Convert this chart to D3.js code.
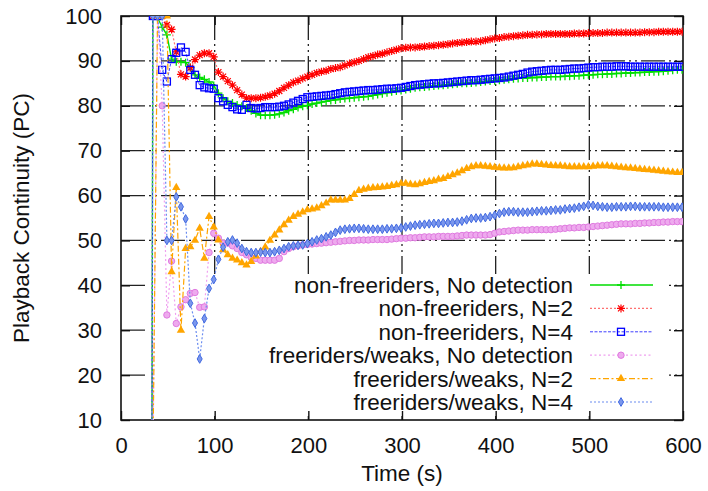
<!DOCTYPE html>
<html>
<head>
<meta charset="utf-8">
<script src="https://cdn.jsdelivr.net/npm/d3@7"></script>
<style>
  body { margin: 0; background: #fff; }
  text { font-family: "Liberation Sans", Arial, sans-serif; }
</style>
</head>
<body>
<div id="chart"></div>
<script>
// sample times (s)
const times = [33, 34, 39, 44, 49, 54, 59, 64, 69, 74,
  79, 84, 89, 94, 99, 104, 109, 114, 119, 124,
  129, 134, 139, 144, 149, 154, 159, 164, 169, 174,
  179, 184, 189, 194, 199, 204, 209, 214, 219, 224,
  229, 234, 239, 244, 249, 254, 259, 264, 269, 274,
  279, 284, 289, 294, 299, 304, 309, 314, 319, 324,
  329, 334, 339, 344, 349, 354, 359, 364, 369, 374,
  379, 384, 389, 394, 399, 404, 409, 414, 419, 424,
  429, 434, 439, 444, 449, 454, 459, 464, 469, 474,
  479, 484, 489, 494, 499, 504, 509, 514, 519, 524,
  529, 534, 539, 544, 549, 554, 559, 564, 569, 574,
  579, 584, 589, 594, 599];

const nonNoDetect = [0, 100, 99.6, 97.5, 95.8, 90.4, 89.8, 89.8, 89.6, 88.5,
  86.9, 86.3, 85.9, 85.3, 84.5, 82.8, 81.7, 81, 80.6, 80.2,
  79.9, 79.5, 78.9, 78.3, 77.9, 77.9, 77.9, 78, 78.2, 78.5,
  78.9, 79.2, 79.6, 79.9, 80.1, 80.4, 80.6, 80.8, 81, 81.2,
  81.3, 81.5, 81.6, 81.7, 81.8, 81.9, 82, 82.1, 82.3, 82.5,
  82.7, 82.9, 83.1, 83.3, 83.4, 83.6, 83.8, 84, 84.1, 84.2,
  84.3, 84.4, 84.5, 84.6, 84.7, 84.8, 84.9, 85, 85, 85.1,
  85.2, 85.3, 85.4, 85.5, 85.6, 85.7, 85.8, 85.9, 86, 86.1,
  86.2, 86.2, 86.3, 86.3, 86.4, 86.4, 86.5, 86.5, 86.5, 86.6,
  86.6, 86.7, 86.7, 86.8, 86.9, 86.9, 87, 87, 87.1, 87.1,
  87.2, 87.2, 87.3, 87.3, 87.4, 87.4, 87.5, 87.5, 87.6, 87.6,
  87.7, 87.8, 87.9, 88, 88];

const nonN2 = [0, 100, 100, 100, 98, 97, 92, 87, 86.5, 88.5,
  90.3, 91.3, 91.7, 91.7, 90.9, 87.5, 86.5, 85.5, 84.6, 83.5,
  82.5, 81.7, 81.7, 81.7, 81.8, 82, 82.3, 82.7, 83.3, 84,
  84.6, 85.2, 85.6, 86.1, 86.5, 86.9, 87.3, 87.6, 87.8, 88.2,
  88.4, 88.6, 89, 89.4, 89.7, 90, 90.4, 90.8, 91.1, 91.4,
  91.6, 91.9, 92.2, 92.5, 92.8, 92.9, 93, 93, 93.1, 93.2,
  93.3, 93.4, 93.5, 93.6, 93.7, 93.9, 94, 94.1, 94.2, 94.3,
  94.3, 94.4, 94.6, 94.8, 95, 95.1, 95.3, 95.4, 95.5, 95.6,
  95.7, 95.8, 95.8, 95.9, 95.9, 96, 96, 96, 96, 96,
  96, 96.1, 96.1, 96.1, 96.2, 96.2, 96.2, 96.2, 96.3, 96.3,
  96.3, 96.3, 96.3, 96.3, 96.3, 96.3, 96.4, 96.4, 96.4, 96.5,
  96.5, 96.5, 96.5, 96.5, 96.5];

const nonN4 = [0, 100, 100, 88, 85.4, 90.4, 91.8, 93, 92, 88,
  86.9, 84.6, 84.1, 83.9, 83.8, 81.7, 81, 80.2, 79.7, 79.2,
  79.1, 80.2, 79.5, 79.4, 79.5, 79.7, 79.7, 79.7, 79.8, 80,
  80.3, 80.7, 81.1, 81.5, 81.9, 82, 82.1, 82.2, 82.3, 82.4,
  82.6, 82.8, 83, 83.1, 83.2, 83.3, 83.4, 83.5, 83.5, 83.6,
  83.7, 83.8, 83.8, 83.9, 84, 84.2, 84.4, 84.6, 84.7, 84.8,
  84.9, 85, 85, 85.1, 85.2, 85.3, 85.4, 85.5, 85.6, 85.7,
  85.7, 85.8, 85.9, 86, 86.1, 86.2, 86.3, 86.5, 86.7, 86.9,
  87.1, 87.4, 87.6, 87.7, 87.8, 87.9, 88, 88, 88, 88.1,
  88.2, 88.3, 88.3, 88.4, 88.5, 88.6, 88.6, 88.7, 88.7, 88.7,
  88.8, 88.8, 88.8, 88.7, 88.7, 88.7, 88.7, 88.7, 88.7, 88.7,
  88.7, 88.7, 88.7, 88.7, 88.7];

const freeNoDetect = [0, 0, 100, 80, 33.4, 45.4, 31.5, 35.2, 36.8, 38.2,
  38.4, 35.1, 35.2, 47.3, 51.6, 50.5, 49.4, 49.4, 48.8, 48.2,
  47.3, 46.8, 46.2, 46, 45.6, 45.6, 45.6, 45.6, 46, 47.5,
  48.2, 48.6, 48.8, 49, 49.1, 49.2, 49.3, 49.4, 49.5, 49.6,
  49.7, 49.8, 49.9, 50, 50, 50.1, 50.1, 50.1, 50.2, 50.2,
  50.2, 50.2, 50.3, 50.4, 50.5, 50.5, 50.6, 50.6, 50.7, 50.8,
  50.8, 50.8, 50.9, 50.9, 50.9, 50.9, 51, 51.1, 51.2, 51.2,
  51.2, 51.2, 51.2, 51.3, 51.6, 51.9, 52, 52.1, 52.2, 52.3,
  52.3, 52.3, 52.4, 52.4, 52.4, 52.4, 52.4, 52.5, 52.6, 52.7,
  52.8, 52.8, 52.9, 52.9, 53, 53.1, 53.2, 53.3, 53.4, 53.5,
  53.6, 53.7, 53.7, 53.7, 53.8, 53.8, 53.9, 53.9, 54, 54,
  54.1, 54.1, 54.2, 54.2, 54.2];

const freeN2 = [0, 0, 100, 100, 100, 43, 61.8, 30, 48.2, 48.6,
  50, 52.7, 46, 55.3, 53, 50.1, 47.9, 46.8, 46, 45.6,
  45, 44.5, 45.3, 46.5, 47.5, 48.5, 50, 51.2, 52.3, 53.5,
  54.5, 55.3, 55.8, 56.3, 56.8, 57, 57.2, 57.7, 58.3, 59,
  59, 59, 59, 59.3, 60.2, 61.1, 61.4, 61.6, 61.7, 61.8,
  61.9, 62, 62.2, 62.4, 62.7, 62.7, 62.5, 62.4, 62.6, 62.9,
  63.1, 63.3, 63.6, 63.8, 64.2, 64.6, 65, 65.5, 66, 66.4,
  66.6, 66.6, 66.5, 66.4, 66.3, 66.2, 66.1, 66.1, 66.2, 66.4,
  66.6, 66.8, 67, 67, 66.9, 66.8, 66.7, 66.6, 66.6, 66.5,
  66.4, 66.4, 66.4, 66.4, 66.4, 66.5, 66.6, 66.6, 66.6, 66.5,
  66.4, 66.3, 66.2, 66.1, 66, 65.9, 65.8, 65.7, 65.6, 65.5,
  65.4, 65.3, 65.2, 65.1, 65.1];

const freeN4 = [0, 100, 100, 100, 50, 50, 59.7, 57.5, 54.8, 36,
  31.6, 23.6, 32.6, 39.3, 41.3, 45.8, 48.5, 49.7, 50.1, 49.4,
  48.2, 47.5, 47.3, 47.3, 47.4, 47.3, 47.3, 47.5, 47.8, 48.2,
  48.6, 48.8, 48.9, 49, 49.3, 49.7, 50.1, 50.4, 50.8, 51.2,
  51.8, 52.3, 52.5, 52.6, 52.7, 52.7, 52.6, 52.5, 52.5, 52.5,
  52.5, 52.6, 52.6, 52.7, 52.8, 53, 53.2, 53.4, 53.5, 53.6,
  53.7, 53.8, 53.8, 53.9, 54, 54, 54.1, 54.3, 54.6, 54.9,
  55, 55, 55.1, 55.3, 55.6, 56, 56.3, 56.4, 56.4, 56.3,
  56.3, 56.3, 56.4, 56.5, 56.6, 56.6, 56.7, 56.8, 56.8, 57,
  57.1, 57.2, 57.4, 57.6, 57.9, 57.8, 57.6, 57.5, 57.4, 57.4,
  57.5, 57.5, 57.5, 57.6, 57.6, 57.5, 57.5, 57.5, 57.5, 57.5,
  57.4, 57.4, 57.4, 57.4, 57.4];

const seriesLabels = ["non-freeriders, No detection", "non-freeriders, N=2", "non-freeriders, N=4",
  "freeriders/weaks, No detection", "freeriders/weaks, N=2", "freeriders/weaks, N=4"];
const xTicks = [0, 100, 200, 300, 400, 500, 600];
const yTicks = [10, 20, 30, 40, 50, 60, 70, 80, 90, 100];

// setup SVG
let svgWidth = 708, svgHeight = 491;
let margin = {top: 16, right: 25, bottom: 71, left: 121};
let bodyWidth = svgWidth - margin.left - margin.right;
let bodyHeight = svgHeight - margin.top - margin.bottom;

let svg = d3.select("#chart").append("svg")
  .attr("width", svgWidth).attr("height", svgHeight);

let chartGroup = svg.append("g")
  .attr("transform", `translate(${margin.left},${margin.top})`);

let xScale = d3.scaleLinear().domain([0, 600]).range([0, bodyWidth]);
let yScale = d3.scaleLinear().domain([10, 100]).range([bodyHeight, 0]);

// series styles
let allValues = [nonNoDetect, nonN2, nonN4, freeNoDetect, freeN2, freeN4];
let styles = [
  {color: "#00dd00", lineColor: "#00dd00", dash: null, width: 1.4, marker: "plus"},
  {color: "#ff0000", lineColor: "#ff7070", dash: "2,2", width: 1.2, marker: "star"},
  {color: "#0000ff", lineColor: "#2a2aff", dash: "3,1.5", width: 0.9, marker: "square"},
  {color: "#e07ae0", lineColor: "#f0a0f0", dash: "2,2.5", width: 1.2, marker: "circle"},
  {color: "#ffa500", lineColor: "#ffa500", dash: "6,2.5,2,2.5", width: 1.2, marker: "triangle"},
  {color: "#4169e1", lineColor: "#6a8cf0", dash: "2,2", width: 1.2, marker: "diamond"}
];

let seriesData = allValues.map((vals, i) => ({
  label: seriesLabels[i], style: styles[i],
  points: times.map((t, j) => ({t: t, v: vals[j]}))
}));

// gridlines (dash-dot, gnuplot style)
let gridDash = "24,4,2,4,2,4";
chartGroup.append("g").selectAll("line.hg")
  .data(yTicks.slice(1, -1)).enter().append("line")
  .attr("x1", 0).attr("x2", bodyWidth)
  .attr("y1", d => yScale(d)).attr("y2", d => yScale(d))
  .attr("stroke", "#222").attr("stroke-width", 1.3)
  .attr("stroke-dasharray", gridDash);
chartGroup.append("g").selectAll("line.vg")
  .data(xTicks.slice(1, -1)).enter().append("line")
  .attr("y1", 0).attr("y2", bodyHeight)
  .attr("x1", d => xScale(d)).attr("x2", d => xScale(d))
  .attr("stroke", "#222").attr("stroke-width", 1.3)
  .attr("stroke-dasharray", gridDash);

// opaque key box hides the grid behind the legend
let keyBox = {x: 148 - margin.left, y: 274 - margin.top, w: 520, h: 138};
chartGroup.append("rect")
  .attr("x", keyBox.x).attr("y", keyBox.y)
  .attr("width", keyBox.w).attr("height", keyBox.h)
  .attr("fill", "#fff");

// axes with inward ticks, mirrored
chartGroup.append("g")
  .attr("transform", `translate(0,${bodyHeight})`)
  .call(d3.axisBottom(xScale).tickValues(xTicks).tickSizeInner(-9).tickSizeOuter(0).tickPadding(17))
  .call(g => g.select(".domain").remove());
chartGroup.append("g")
  .call(d3.axisTop(xScale).tickValues(xTicks).tickSizeInner(-9).tickSizeOuter(0).tickFormat(""))
  .call(g => g.select(".domain").remove());
chartGroup.append("g")
  .call(d3.axisLeft(yScale).tickValues(yTicks).tickSizeInner(-9).tickSizeOuter(0).tickPadding(19))
  .call(g => g.select(".domain").remove());
chartGroup.append("g")
  .attr("transform", `translate(${bodyWidth},0)`)
  .call(d3.axisRight(yScale).tickValues(yTicks).tickSizeInner(-9).tickSizeOuter(0).tickFormat(""))
  .call(g => g.select(".domain").remove());

chartGroup.selectAll(".tick line").attr("stroke", "#111").attr("stroke-width", 1.4);
chartGroup.selectAll(".tick text")
  .attr("font-family", '"Liberation Sans", Arial, sans-serif')
  .attr("font-size", "22px").attr("fill", "#111");

chartGroup.append("rect")
  .attr("width", bodyWidth).attr("height", bodyHeight)
  .attr("fill", "none").attr("stroke", "#111").attr("stroke-width", 1.6);

// axis titles
svg.append("text")
  .attr("transform", `translate(${margin.left + bodyWidth / 2},481)`)
  .attr("text-anchor", "middle").attr("font-size", "22.5px").attr("fill", "#111")
  .text("Time (s)");
svg.append("text")
  .attr("transform", `translate(29,${margin.top + bodyHeight / 2}) rotate(-90)`)
  .attr("text-anchor", "middle").attr("font-size", "22.5px").attr("fill", "#111")
  .text("Playback Continuity (PC)");

// markers
function drawMarker(g, kind, color) {
  if (kind === "plus") {
    g.append("path").attr("d", "M-4,0H4M0,-4V4")
      .attr("stroke", color).attr("stroke-width", 1.3).attr("fill", "none");
  } else if (kind === "star") {
    g.append("path").attr("d", "M-4,0H4M0,-4V4M-3,-3L3,3M-3,3L3,-3")
      .attr("stroke", color).attr("stroke-width", 1.2).attr("fill", "none");
  } else if (kind === "square") {
    g.append("rect").attr("x", -3.5).attr("y", -3.5).attr("width", 7).attr("height", 7)
      .attr("stroke", color).attr("stroke-width", 1.3).attr("fill", "none");
  } else if (kind === "circle") {
    g.append("circle").attr("r", 3.2)
      .attr("fill", "#eeaaee").attr("stroke", color).attr("stroke-width", 1);
  } else if (kind === "triangle") {
    g.append("path").attr("d", d3.symbol().type(d3.symbolTriangle).size(30)())
      .attr("fill", color);
  } else if (kind === "diamond") {
    g.append("path").attr("d", d3.symbol().type(d3.symbolDiamond).size(22)())
      .attr("fill", "#7b97ec").attr("stroke", color).attr("stroke-width", 1);
  }
}

// clip data to plot area
svg.append("defs").append("clipPath").attr("id", "plotClip")
  .append("rect").attr("width", bodyWidth).attr("height", bodyHeight);

let plotGroup = chartGroup.append("g").attr("clip-path", "url(#plotClip)");

let lineGen = d3.line().x(d => xScale(d.t)).y(d => yScale(d.v));

seriesData.forEach(s => {
  let g = plotGroup.append("g");
  g.append("path")
    .datum(s.points)
    .attr("d", lineGen)
    .attr("fill", "none")
    .attr("stroke", s.style.lineColor)
    .attr("stroke-width", s.style.width)
    .attr("stroke-dasharray", s.style.dash);
  g.selectAll("g.pt")
    .data(s.points.filter(d => d.v >= 10 && d.v <= 100))
    .enter().append("g")
    .attr("transform", d => `translate(${xScale(d.t)},${yScale(d.v)})`)
    .each(function () { drawMarker(d3.select(this), s.style.marker, s.style.color); });
});

// legend
let legendGroup = svg.append("g");
seriesData.forEach((s, i) => {
  let ly = 285 + i * 23.4;
  legendGroup.append("text")
    .attr("x", 573).attr("y", ly + 8)
    .attr("text-anchor", "end").attr("font-size", "22.5px").attr("fill", "#111")
    .text(s.label);
  legendGroup.append("line")
    .attr("x1", 590).attr("x2", 653).attr("y1", ly).attr("y2", ly)
    .attr("stroke", s.style.lineColor).attr("stroke-width", s.style.width)
    .attr("stroke-dasharray", s.style.dash);
  let mg = legendGroup.append("g").attr("transform", `translate(621,${ly})`);
  drawMarker(mg, s.style.marker, s.style.color);
});
</script>
</body>
</html>
